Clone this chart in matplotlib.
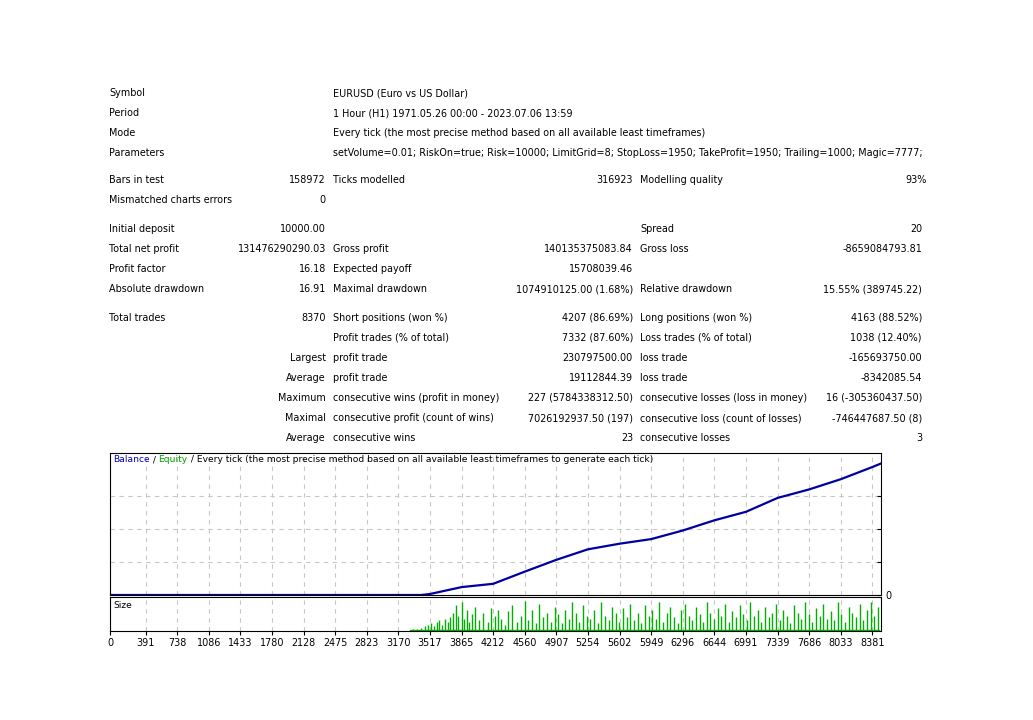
import matplotlib
matplotlib.use("Agg")
import matplotlib.pyplot as plt

# report table rows: (y px, [(x px, text, align), ...])
rows = [
    (93, [(109, "Symbol", "left"), (333, "EURUSD (Euro vs US Dollar)", "left")]),
    (113, [(109, "Period", "left"), (333, "1 Hour (H1) 1971.05.26 00:00 - 2023.07.06 13:59", "left")]),
    (133, [(109, "Mode", "left"), (333, "Every tick (the most precise method based on all available least timeframes)", "left")]),
    (153, [(109, "Parameters", "left"), (333, "setVolume=0.01; RiskOn=true; Risk=10000; LimitGrid=8; StopLoss=1950; TakeProfit=1950; Trailing=1000; Magic=7777;", "left")]),
    (180, [(109, "Bars in test", "left"), (326, "158972", "right"), (333, "Ticks modelled", "left"), (633, "316923", "right"), (640, "Modelling quality", "left"), (927, "93%", "right")]),
    (200, [(109, "Mismatched charts errors", "left"), (326, "0", "right")]),
    (229, [(109, "Initial deposit", "left"), (326, "10000.00", "right"), (640, "Spread", "left"), (922, "20", "right")]),
    (249, [(109, "Total net profit", "left"), (326, "131476290290.03", "right"), (333, "Gross profit", "left"), (633, "140135375083.84", "right"), (640, "Gross loss", "left"), (922, "-8659084793.81", "right")]),
    (269, [(109, "Profit factor", "left"), (326, "16.18", "right"), (333, "Expected payoff", "left"), (633, "15708039.46", "right")]),
    (289, [(109, "Absolute drawdown", "left"), (326, "16.91", "right"), (333, "Maximal drawdown", "left"), (633, "1074910125.00 (1.68%)", "right"), (640, "Relative drawdown", "left"), (922, "15.55% (389745.22)", "right")]),
    (318, [(109, "Total trades", "left"), (326, "8370", "right"), (333, "Short positions (won %)", "left"), (633, "4207 (86.69%)", "right"), (640, "Long positions (won %)", "left"), (922, "4163 (88.52%)", "right")]),
    (338, [(333, "Profit trades (% of total)", "left"), (633, "7332 (87.60%)", "right"), (640, "Loss trades (% of total)", "left"), (922, "1038 (12.40%)", "right")]),
    (358, [(326, "Largest", "right"), (333, "profit trade", "left"), (633, "230797500.00", "right"), (640, "loss trade", "left"), (922, "-165693750.00", "right")]),
    (378, [(326, "Average", "right"), (333, "profit trade", "left"), (633, "19112844.39", "right"), (640, "loss trade", "left"), (922, "-8342085.54", "right")]),
    (398, [(326, "Maximum", "right"), (333, "consecutive wins (profit in money)", "left"), (633, "227 (5784338312.50)", "right"), (640, "consecutive losses (loss in money)", "left"), (922, "16 (-305360437.50)", "right")]),
    (418, [(326, "Maximal", "right"), (333, "consecutive profit (count of wins)", "left"), (633, "7026192937.50 (197)", "right"), (640, "consecutive loss (count of losses)", "left"), (922, "-746447687.50 (8)", "right")]),
    (438, [(326, "Average", "right"), (333, "consecutive wins", "left"), (633, "23", "right"), (640, "consecutive losses", "left"), (922, "3", "right")]),
]

# balance curve (trade number, balance in billions)
trade_no = [0, 3420, 3517, 3865, 4212, 4560, 4907, 5254, 5602, 5949, 6296, 6644, 6991, 7339, 7686, 8033, 8381, 8475]
balance_bn = [0.00001, 0.00001, 1.0, 7.9, 11.2, 23.4, 35.2, 45.7, 51.3, 55.9, 64.5, 74.7, 83.2, 97.1, 105.6, 115.8, 128.0, 131.5]

# lot size bars (trade number, relative size)
size_x = [3330, 3380, 3420, 3460, 3500, 3530, 3560, 3590, 3620, 3650, 3680, 3710, 3740, 3770, 3800, 3830,
          3870, 3890, 3920, 3950, 3980, 4010, 4060, 4100, 4150, 4190, 4230, 4260, 4300, 4340, 4380, 4420,
          4470, 4520, 4560, 4600, 4640, 4680, 4720, 4760, 4800, 4850, 4890, 4930, 4970, 5000, 5040, 5080,
          5120, 5160, 5200, 5240, 5280, 5320, 5360, 5400, 5440, 5480, 5520, 5560, 5600, 5640, 5680, 5720,
          5760, 5800, 5840, 5880, 5920, 5960, 6000, 6040, 6080, 6120, 6160, 6200, 6240, 6280, 6320, 6360,
          6400, 6440, 6480, 6520, 6560, 6600, 6640, 6680, 6720, 6760, 6800, 6840, 6880, 6920, 6960, 7000,
          7040, 7080, 7120, 7160, 7200, 7240, 7280, 7320, 7360, 7400, 7440, 7480, 7520, 7560, 7600, 7640,
          7680, 7720, 7760, 7800, 7840, 7880, 7920, 7960, 8000, 8040, 8080, 8120, 8160, 8200, 8240, 8280,
          8320, 8360, 8400, 8440]
size_h = [0.05, 0.08, 0.1, 0.15, 0.2, 0.25, 0.15, 0.3, 0.35, 0.2, 0.4, 0.3, 0.45, 0.6, 0.85, 0.5,
          0.95, 0.4, 0.7, 0.3, 0.55, 0.8, 0.35, 0.6, 0.3, 0.75, 0.5, 0.7, 0.4, 0.2, 0.65, 0.85,
          0.3, 0.5, 1.0, 0.35, 0.7, 0.25, 0.9, 0.45, 0.6, 0.3, 0.8, 0.55, 0.25, 0.7, 0.4, 0.95,
          0.6, 0.3, 0.85, 0.5, 0.4, 0.7, 0.25, 0.95, 0.5, 0.35, 0.8, 0.6, 0.3, 0.75, 0.45, 0.9,
          0.35, 0.6, 0.25, 0.85, 0.5, 0.7, 0.4, 0.95, 0.3, 0.6, 0.8, 0.45, 0.25, 0.7, 0.9, 0.5,
          0.35, 0.8, 0.55, 0.3, 0.95, 0.6, 0.4, 0.75, 0.5, 0.9, 0.3, 0.65, 0.45, 0.85, 0.55, 0.35,
          0.95, 0.5, 0.7, 0.3, 0.8, 0.45, 0.6, 0.9, 0.35, 0.7, 0.5, 0.25, 0.85, 0.6, 0.4, 0.95,
          0.55, 0.3, 0.75, 0.5, 0.9, 0.4, 0.65, 0.35, 0.95, 0.55, 0.3, 0.8, 0.6, 0.45, 0.9, 0.35,
          0.7, 0.95, 0.5, 0.8]

x_ticks = [0, 391, 738, 1086, 1433, 1780, 2128, 2475, 2823, 3170, 3517, 3865, 4212, 4560,
           4907, 5254, 5602, 5949, 6296, 6644, 6991, 7339, 7686, 8033, 8381]

W, H = 1033, 720
fig = plt.figure(figsize=(W / 100, H / 100), dpi=100)
plt.rcParams["font.family"] = "DejaVu Sans"
fs = 6.9

for y, cells in rows:
    for x, txt, ha in cells:
        fig.text(x / W, 1 - y / H, txt, ha=ha, va="center", fontsize=fs, color="black")

def box(l, t, r, b):
    return [l / W, 1 - b / H, (r - l) / W, (b - t) / H]

x_max = 8475
grid_style = dict(color="#c8c8c8", linestyle=(0, (4, 4)), linewidth=0.8)

ax = fig.add_axes(box(110, 453, 881, 595))
ax.plot(trade_no, balance_bn, color="#0000a0", linewidth=1.6)
ax.set_xlim(0, x_max)
ax.set_ylim(0, 142)
ax.set_xticks(x_ticks)
ax.set_yticks([0, 32.9, 65.8, 98.7])
ax.grid(True, **grid_style)
ax.tick_params(axis="x", length=0, labelbottom=False)
ax.tick_params(axis="y", left=False, labelleft=False, right=True, labelright=True,
               direction="in", length=3, labelsize=fs)
ax.set_yticklabels(["0", "", "", ""])
for s in ax.spines.values():
    s.set_linewidth(0.8)

# legend line, pieces chained one after another
t = ax.text(0.004, 0.985, "Balance", transform=ax.transAxes, color="#0000c0", fontsize=fs - 0.3, va="top")
for txt, col in [(" / ", "black"), ("Equity", "#00a000"),
                 (" / Every tick (the most precise method based on all available least timeframes to generate each tick)", "black")]:
    t = ax.annotate(txt, xycoords=t, xy=(1, 0), va="bottom", color=col, fontsize=fs - 0.3)

ax2 = fig.add_axes(box(110, 597, 881, 631))
ax2.vlines(size_x, 0, size_h, color="#00b000", linewidth=1)
ax2.plot([3300, 8450], [0.02, 0.02], color="#00b000", linewidth=1)
ax2.set_xlim(0, x_max)
ax2.set_ylim(0, 1.12)
ax2.set_xticks(x_ticks)
ax2.set_yticks([])
ax2.grid(True, axis="x", **grid_style)
ax2.tick_params(axis="x", length=3, labelsize=fs, pad=2)
for s in ax2.spines.values():
    s.set_linewidth(0.8)
ax2.text(0.004, 0.88, "Size", transform=ax2.transAxes, fontsize=fs - 0.3, va="top")

fig.savefig("out.png", dpi=100)
